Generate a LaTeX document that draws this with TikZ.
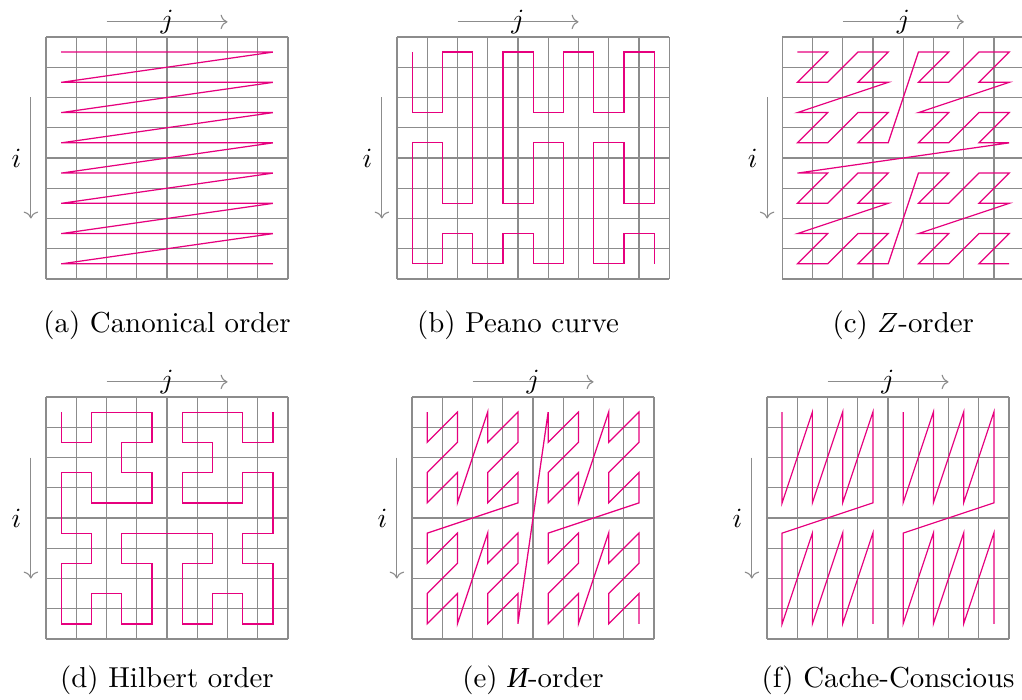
\documentclass[tikz,border=0pt]{standalone}
\usepackage{fontspec}
\usepackage{xcolor}
\usepackage{tikz}
\usetikzlibrary{positioning, arrows.meta}
\newfontfamily\cyrfont{Liberation Serif}
\definecolor{curvepink}{HTML}{E6007E}
\definecolor{gridgrey}{HTML}{8C8C8C}

\begin{document}
\begin{tikzpicture}[
    x=0.383cm, y=0.383cm,
    panel at/.style 2 args={shift={(#1,-#2)}, yscale=-1},
    gridline/.style={draw=gridgrey, line width=0.4pt},
    curve/.style={draw=curvepink, line width=0.45pt},
    axis/.style={->, draw=gridgrey, line width=0.4pt},
    caption/.style={anchor=base, font=\fontsize{10.4pt}{12pt}\selectfont},
]
\useasboundingbox (0,0) rectangle (33.785,-23.14);

% --- grids and i/j axes of the six panels ---
\foreach \p/\gx/\gy/\nc in {a/1.521/1.223/8, b/13.124/1.223/9, c/25.86/1.223/8,
                            d/1.521/13.124/8, e/13.62/13.124/8, f/25.355/13.124/8} {
  \begin{scope}[panel at={\gx}{\gy}]
    \foreach \x in {0,...,\nc} \draw[gridline] (\x,0) -- (\x,8);
    \foreach \y in {0,...,8} \draw[gridline] (0,\y) -- (\nc,\y);
    \coordinate (\p J0) at (2,-0.5);
    \coordinate (\p J1) at (6,-0.5);
    \coordinate (\p I0) at (-0.5,2);
    \coordinate (\p I1) at (-0.5,6);
    \draw[axis] (\p J0) -- (\p J1) node[midway] (\p J) {$j$};
    \draw[axis] (\p I0) -- (\p I1) node[midway, left] (\p I) {$i$};
  \end{scope}
}

% --- (a) canonical order ---
\begin{scope}[panel at={1.521}{1.223}]
  \draw[curve] (0.5,0.5) -- (7.5,0.5)
    \foreach \r in {1,...,7} { -- (0.5,\r+0.5) -- (7.5,\r+0.5) };
  \node[caption] (aCap) at (4,9.785) {(a) Canonical order};
\end{scope}

% --- (b) Peano curve ---
\begin{scope}[panel at={13.124}{1.223}]
  \draw[curve, shift={(0.5,0.5)}] plot coordinates {
    (0,0) (0,2) (1,2) (1,0) (2,0) (2,5) (1,5) (1,3) (0,3) (0,7) (1,7) (1,6)
    (2,6) (2,7) (3,7) (3,6) (4,6) (4,7) (5,7) (5,3) (4,3) (4,5) (3,5) (3,0)
    (4,0) (4,2) (5,2) (5,0) (6,0) (6,2) (7,2) (7,0) (8,0) (8,5) (7,5) (7,3)
    (6,3) (6,7) (7,7) (7,6) (8,6) (8,7)};
  \node[caption] (bCap) at (4,9.785) {(b) Peano curve};
\end{scope}

% --- (c) Z-order ---
\begin{scope}[panel at={25.86}{1.223}]
  \draw[curve] (0.5,0.5)
    \foreach \k [evaluate=\k as \cx using {mod(\k,2)+2*mod(floor(\k/4),2)+4*mod(floor(\k/16),2)+0.5},
                 evaluate=\k as \cy using {mod(floor(\k/2),2)+2*mod(floor(\k/8),2)+4*mod(floor(\k/32),2)+0.5}]
      in {1,...,63} { -- (\cx,\cy) };
  \node[caption] (cCap) at (4,9.785) {(c) $Z$-order};
\end{scope}

% --- (d) Hilbert order ---
\begin{scope}[panel at={1.521}{13.124}]
  \draw[curve, shift={(0.5,0.5)}] plot coordinates {
    (0,0) (0,1) (1,1) (1,0) (3,0) (3,1) (2,1) (2,2) (3,2) (3,3) (1,3) (1,2)
    (0,2) (0,4) (1,4) (1,5) (0,5) (0,7) (1,7) (1,6) (2,6) (2,7) (3,7) (3,5)
    (2,5) (2,4) (5,4) (5,5) (4,5) (4,7) (5,7) (5,6) (6,6) (6,7) (7,7) (7,5)
    (6,5) (6,4) (7,4) (7,2) (6,2) (6,3) (4,3) (4,2) (5,2) (5,1) (4,1) (4,0)
    (6,0) (6,1) (7,1) (7,0)};
  \node[caption] (dCap) at (4,9.59) {(d) Hilbert order};
\end{scope}

% --- (e) И-order ---
\begin{scope}[panel at={13.62}{13.124}]
  \draw[curve] (0.5,0.5)
    \foreach \k [evaluate=\k as \cy using {mod(\k,2)+2*mod(floor(\k/4),2)+4*mod(floor(\k/16),2)+0.5},
                 evaluate=\k as \cx using {mod(floor(\k/2),2)+2*mod(floor(\k/8),2)+4*mod(floor(\k/32),2)+0.5}]
      in {1,...,63} { -- (\cx,\cy) };
  \node[caption] (eCap) at (4,9.59) {(e) {\cyrfont\itshape И}-order};
\end{scope}

% --- (f) cache-conscious ---
\begin{scope}[panel at={25.355}{13.124}]
  \foreach \s in {0,4} {
    \draw[curve, shift={(\s+0.5,0.5)}] (0,0)
      \foreach \c in {0,...,3} { -- (\c,0) -- (\c,3) }
      \foreach \c in {0,...,3} { -- (\c,4) -- (\c,7) };
  }
  \node[caption] (fCap) at (4,9.59) {(f) Cache-Conscious};
\end{scope}

\end{tikzpicture}
\end{document}
